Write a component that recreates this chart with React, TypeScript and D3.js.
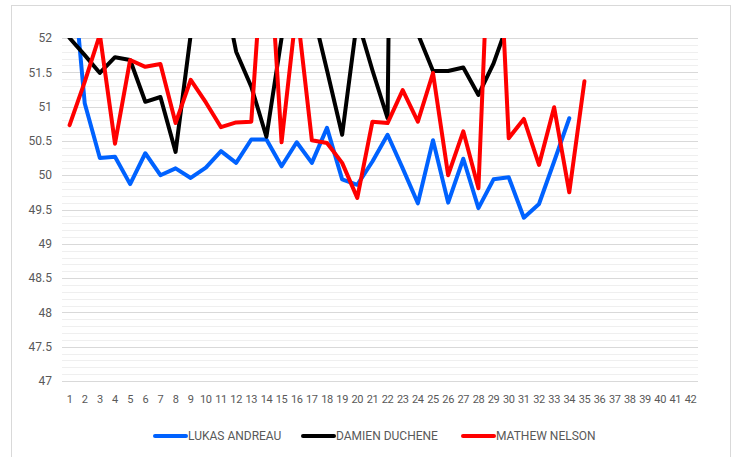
import React from "react";
import * as d3 from "d3";

// day numbers along the bottom
const days = d3.range(1, 43).map(String);
const yTicks = [47, 47.5, 48, 48.5, 49, 49.5, 50, 50.5, 51, 51.5, 52];

const lukas = [53.5, 51.05, 50.25, 50.27, 49.87, 50.32, 50.0, 50.1, 49.96, 50.11,
  50.35, 50.18, 50.52, 50.52, 50.13, 50.48, 50.18, 50.69, 49.94, 49.86,
  50.2, 50.59, 50.1, 49.59, 50.51, 49.6, 50.24, 49.52, 49.94, 49.97,
  49.38, 49.58, 50.2, 50.83];
const damien = [52.0, 51.75, 51.49, 51.72, 51.68, 51.07, 51.14, 50.34, 52.05, 52.5,
  52.9, 51.8, 51.29, 50.56, 52.0, 52.8, 52.45, 51.53, 50.59, 52.28,
  51.53, 50.83, 70, 52.06, 51.52, 51.52, 51.57, 51.17, 51.63, 52.25];
const mathew = [50.73, 51.36, 52.05, 50.46, 51.68, 51.58, 51.62, 50.76, 51.39, 51.06,
  50.7, 50.77, 50.78, 54.0, 50.48, 52.45, 50.51, 50.47, 50.18, 49.67,
  50.78, 50.76, 51.24, 50.78, 51.49, 50.0, 50.64, 49.81, 55.2, 50.54,
  50.82, 50.15, 50.99, 49.75, 51.37];

const series = [
  {name: "LUKAS ANDREAU", color: "#0062ff", values: lukas},
  {name: "DAMIEN DUCHENE", color: "#000000", values: damien},
  {name: "MATHEW NELSON", color: "#ff0000", values: mathew},
];

const W = 734, H = 457;
const plot = {left: 62, right: 698, top: 38, bottom: 381};
const font = "Roboto, 'Liberation Sans', sans-serif";

export default function App() {
  const x = d3.scaleBand().domain(days).range([plot.left, plot.right]);
  const y = d3.scaleLinear().domain([47, 52]).range([plot.bottom, plot.top]);
  const minor = d3.range(470, 521).map(v => v / 10);

  const line = d3.line<number>()
    .x((d, i) => (x(days[i]) as number) + x.bandwidth() / 2)
    .y(d => y(d));

  const legendX = [155, 303, 463];

  return (
    <svg width={W} height={H} style={{position: "absolute", left: 0, top: 0, background: "#fff"}}>
      <rect x={11.5} y={5.5} width={719} height={460} fill="#fff" stroke="#d9d9d9" />
      <defs>
        <clipPath id="plotclip">
          <rect x={plot.left - 4} y={plot.top} width={plot.right - plot.left + 8} height={plot.bottom - plot.top + 4} />
        </clipPath>
      </defs>
      <g>
        {minor.map((v, i) => (
          <line key={"m" + i} x1={plot.left} x2={plot.right} y1={Math.round(y(v)) + 0.5} y2={Math.round(y(v)) + 0.5}
            stroke="#efefef" />
        ))}
        {yTicks.map(v => (
          <line key={"g" + v} x1={plot.left} x2={plot.right} y1={Math.round(y(v)) + 0.5} y2={Math.round(y(v)) + 0.5}
            stroke="#d9d9d9" />
        ))}
      </g>
      <g fontFamily={font} fontSize={12} fill="#595959">
        {yTicks.map(v => (
          <text key={"y" + v} x={52} y={y(v)} dy="0.35em" textAnchor="end">{String(v)}</text>
        ))}
      </g>
      <g fontFamily={font} fontSize={11} fill="#595959">
        {days.map(d => (
          <text key={"x" + d} x={(x(d) as number) + x.bandwidth() / 2} y={403} textAnchor="middle"
            letterSpacing={-0.4}>{d}</text>
        ))}
      </g>
      <g clipPath="url(#plotclip)">
        {series.map(s => (
          <path key={s.name} d={line(s.values) || ""} fill="none" stroke={s.color} strokeWidth={4}
            strokeLinejoin="round" strokeLinecap="round" />
        ))}
      </g>
      <g fontFamily={font} fontSize={12} fill="#595959">
        {series.map((s, i) => (
          <g key={"l" + s.name}>
            <line x1={legendX[i]} x2={legendX[i] + 31} y1={436} y2={436} stroke={s.color} strokeWidth={4}
              strokeLinecap="round" />
            <text x={legendX[i] + 33} y={436} dy="0.35em">{s.name}</text>
          </g>
        ))}
      </g>
    </svg>
  );
}
